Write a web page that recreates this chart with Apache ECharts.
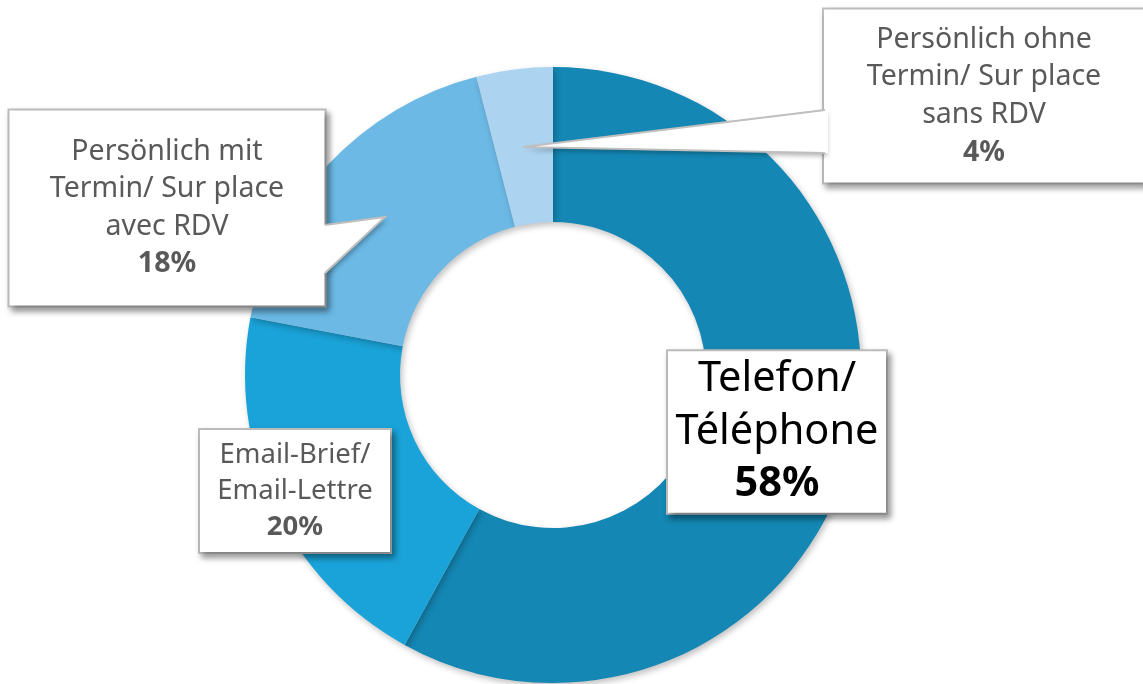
<!DOCTYPE html>
<html>
<head>
<meta charset="utf-8">
<script src="https://cdn.jsdelivr.net/npm/echarts@6/dist/echarts.min.js"></script>
<style>
  html, body { margin: 0; padding: 0; background: #fff; }
  #chart { width: 1143px; height: 684px; }
</style>
</head>
<body>
<div id="chart"></div>
<script>
// data
const categories = [
  'Telefon/\nTéléphone',
  'Email-Brief/\nEmail-Lettre',
  'Persönlich mit\nTermin/ Sur place\navec RDV',
  'Persönlich ohne\nTermin/ Sur place\nsans RDV'
]
const shares = [58, 20, 18, 4]
const colors = ['#1487b4', '#1aa3d8', '#6cb9e6', '#acd3ef']

// callout boxes (center, width, vertical padding, line height, font size)
const boxes = [
  { cx: 777, cy: 432, w: 218, pad: 2, lh: 52.5, fs: 41.5, color: '#000' },
  { cx: 295, cy: 491, w: 190, pad: 7, lh: 36, fs: 27.5, color: '#595959' },
  { cx: 167, cy: 208, w: 315, pad: 23, lh: 37.3, fs: 28.5, color: '#595959' },
  { cx: 984, cy: 96, w: 320, pad: 11, lh: 37.7, fs: 28.5, color: '#595959' },
]

const chart = echarts.init(document.getElementById('chart'))

const pieData = categories.map((name, i) => {
  const b = boxes[i]
  return {
    name: name,
    value: shares[i],
    itemStyle: { color: colors[i] },
    label: {
      width: b.w,
      padding: [b.pad, 0],
      rich: {
        t: { fontFamily: 'Noto Sans', fontSize: b.fs, lineHeight: b.lh, color: b.color, align: 'center' },
        p: { fontFamily: 'Noto Sans', fontSize: b.fs, lineHeight: b.lh, color: b.color, fontWeight: 'bold', align: 'center' },
      },
    },
  }
})

// callout tails
function tail(pts, base) {
  return [
    {
      type: 'polygon',
      z: 100,
      shape: { points: pts },
      style: { fill: '#fff', shadowBlur: 5, shadowOffsetX: 2, shadowOffsetY: 3, shadowColor: 'rgba(0,0,0,0.3)' },
    },
    {
      type: 'polygon',
      z: 101,
      shape: { points: pts.concat(base) },
      style: { fill: '#fff' },
    },
    {
      type: 'polyline',
      z: 102,
      shape: { points: pts },
      style: { stroke: '#bfbfbf', lineWidth: 2, fill: null },
    },
  ]
}

chart.setOption({
  animation: false,
  series: [
    {
      type: 'pie',
      center: [553, 375],
      radius: [153, 308],
      startAngle: 90,
      clockwise: true,
      data: pieData,
      itemStyle: {
        shadowBlur: 6,
        shadowOffsetX: 2,
        shadowOffsetY: 3,
        shadowColor: 'rgba(0,0,0,0.25)',
      },
      label: {
        show: true,
        position: 'outside',
        formatter: (p) => {
          const lines = p.name.split('\n').map((l) => '{t|' + l + '}')
          lines.push('{p|' + p.value + '%}')
          return lines.join('\n')
        },
        backgroundColor: '#fff',
        borderColor: '#bfbfbf',
        borderWidth: 2,
        shadowColor: 'rgba(0,0,0,0.35)',
        shadowBlur: 6,
        shadowOffsetX: 3,
        shadowOffsetY: 4,
      },
      labelLine: { show: false },
      labelLayout: (params) => {
        const b = boxes[params.dataIndex]
        return { x: b.cx, y: b.cy, align: 'center', verticalAlign: 'middle' }
      },
      emphasis: { disabled: true },
    },
  ],
  graphic: [
    ...tail([[325, 225], [385, 217], [325, 273]], [[322, 273], [322, 225]]),
    ...tail([[825, 110], [523, 147], [825, 153]], [[828, 153], [828, 110]]),
  ],
})
</script>
</body>
</html>
